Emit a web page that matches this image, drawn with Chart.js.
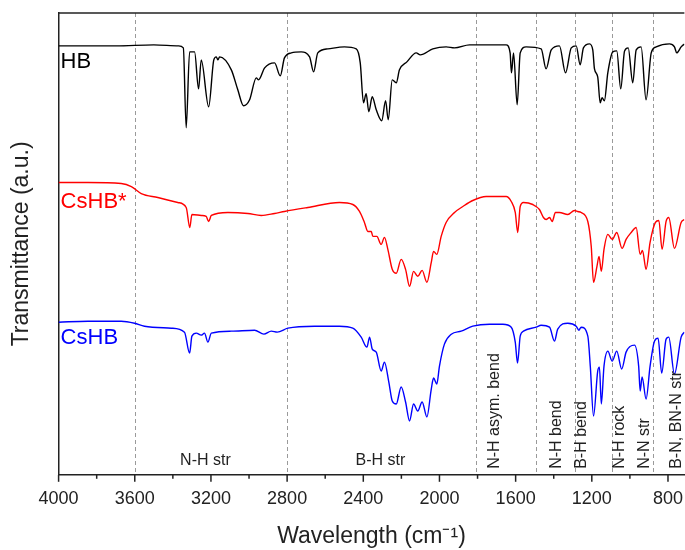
<!DOCTYPE html>
<html>
<head>
<meta charset="utf-8">
<script src="https://cdn.jsdelivr.net/npm/chart.js@4"></script>
<style>
  html, body { margin: 0; padding: 0; background: #fff; overflow: hidden; }
</style>
</head>
<body>
<canvas id="irChart" width="685" height="550"></canvas>
<script>
// IR spectra, transmittance in a.u. (traces offset vertically)
const hbWave = [4000, 3700, 3500, 3370, 3345, 3330, 3312, 3286, 3265, 3251, 3212, 3185, 3172, 3163, 3155, 3093, 3059, 3029, 2997, 2962, 2950, 2918, 2866, 2836, 2814, 2778, 2726, 2682, 2661, 2639, 2586, 2499, 2437, 2416, 2399, 2385, 2371, 2353, 2332, 2303, 2283, 2269, 2248, 2227, 2210, 2171, 2122, 2101, 2035, 1965, 1921, 1842, 1700, 1650, 1629, 1622, 1611, 1592, 1576, 1545, 1466, 1440, 1413, 1370, 1338, 1308, 1282, 1261, 1244, 1212, 1195, 1186, 1169, 1156, 1146, 1134, 1116, 1090, 1069, 1048, 1028, 1009, 985, 967, 941, 915, 888, 862, 792, 766, 754, 731, 714];
const hbT = [430, 430, 431, 430, 428, 348, 424, 424, 387, 416, 369, 416, 419, 416, 419, 406, 386, 370, 376, 398, 396, 408, 413, 400, 418, 423, 424, 419, 404, 423, 427, 429, 427, 413, 373, 382, 364, 379, 366, 355, 375, 356, 396, 393, 406, 414, 423, 421, 427, 429, 428, 431, 431, 431, 423, 403, 423, 371, 423, 429, 427, 407, 426, 430, 403, 428, 430, 411, 428, 432, 426, 407, 399, 373, 378, 375, 403, 424, 425, 387, 425, 428, 393, 426, 429, 376, 423, 429, 432, 429, 423, 429, 432];

const cshbStarWave = [4000, 3846, 3671, 3618, 3566, 3479, 3374, 3330, 3311, 3300, 3251, 3225, 3212, 3198, 3111, 3006, 2936, 2866, 2814, 2691, 2525, 2455, 2420, 2394, 2376, 2358, 2350, 2329, 2306, 2289, 2271, 2248, 2227, 2201, 2178, 2157, 2136, 2114, 2091, 2066, 2043, 2031, 2014, 1991, 1965, 1921, 1877, 1825, 1755, 1650, 1623, 1602, 1589, 1576, 1559, 1510, 1475, 1454, 1440, 1422, 1408, 1391, 1370, 1326, 1291, 1274, 1256, 1221, 1203, 1191, 1173, 1162, 1150, 1136, 1116, 1093, 1069, 1041, 1020, 993, 967, 946, 934, 915, 894, 866, 848, 831, 810, 796, 766, 731, 714];
const cshbStarT = [293, 293, 292, 289, 282, 278, 273, 268, 248, 261, 260, 259, 254, 260, 263, 262, 260, 262, 264, 268, 273, 271, 264, 253, 244, 244, 239, 239, 231, 238, 226, 206, 202, 216, 206, 189, 204, 199, 205, 193, 213, 224, 221, 239, 253, 263, 269, 275, 279, 279, 274, 263, 243, 269, 273, 271, 266, 258, 256, 258, 254, 263, 263, 261, 265, 264, 263, 254, 229, 193, 209, 219, 204, 226, 241, 236, 243, 227, 236, 243, 248, 221, 225, 206, 233, 253, 255, 226, 254, 258, 227, 253, 256];

const cshbWave = [4000, 3846, 3671, 3601, 3549, 3408, 3339, 3312, 3300, 3277, 3251, 3234, 3216, 3198, 3093, 2971, 2922, 2883, 2852, 2796, 2656, 2525, 2455, 2411, 2381, 2367, 2353, 2332, 2306, 2289, 2266, 2248, 2227, 2201, 2178, 2157, 2136, 2114, 2091, 2066, 2043, 2031, 2014, 2000, 1974, 1938, 1886, 1825, 1737, 1667, 1623, 1602, 1590, 1576, 1559, 1492, 1466, 1422, 1396, 1379, 1326, 1282, 1268, 1256, 1221, 1208, 1191, 1169, 1160, 1150, 1136, 1116, 1093, 1069, 1043, 1020, 976, 954, 946, 936, 915, 894, 871, 852, 833, 810, 796, 766, 731, 714];
const cshbT = [153, 154, 154, 152, 149, 147, 143, 122, 139, 142, 140, 142, 133, 142, 144, 145, 141, 144, 143, 147, 149, 149, 147, 138, 128, 138, 126, 123, 104, 113, 93, 74, 71, 88, 73, 54, 71, 64, 73, 58, 86, 97, 91, 109, 131, 141, 144, 149, 151, 151, 148, 133, 112, 139, 144, 148, 150, 148, 134, 146, 152, 149, 145, 148, 139, 109, 59, 104, 108, 71, 109, 124, 114, 124, 106, 123, 130, 109, 84, 98, 76, 109, 134, 137, 102, 136, 138, 101, 138, 143];

const seriesNames = ['HB', 'CsHB*', 'CsHB'];
const seriesColors = ['#000000', '#ff0000', '#0000ff'];
const seriesLabelY = [414, 274, 137];

const tickValues = [4000, 3600, 3200, 2800, 2400, 2000, 1600, 1200, 800];
const minorTicks = [3800, 3400, 3000, 2600, 2200, 1800, 1400, 1000];

// dashed guide lines and band labels
const guideLines = [3600, 2800, 1810, 1495, 1290, 1095, 880];
const flatLabels = ['N-H str', 'B-H str'];
const flatLabelX = [3229, 2310];
const upLabels = ['N-H asym. bend', 'N-H bend', 'B-H bend', 'N-H rock', 'N-N str', 'B-N, BN-N str'];
const upLabelX = [1711, 1387, 1256, 1055, 924, 757];

function toPoints(xs, ys) {
    return xs.map((x, i) => ({ x: x, y: ys[i] }));
}

const overlay = {
    id: 'overlay',
    beforeDatasetsDraw(chart) {
        const { ctx, chartArea: a, scales: { x } } = chart;
        ctx.save();
        ctx.strokeStyle = '#9a9a9a';
        ctx.lineWidth = 1;
        ctx.setLineDash([4, 3]);
        guideLines.forEach(v => {
            const px = Math.round(x.getPixelForValue(v)) + 0.5;
            ctx.beginPath();
            ctx.moveTo(px, a.top);
            ctx.lineTo(px, a.bottom);
            ctx.stroke();
        });
        ctx.restore();
    },
    afterDraw(chart) {
        const { ctx, chartArea: a, scales: { x, y } } = chart;
        ctx.save();
        // top frame line
        ctx.strokeStyle = '#222';
        ctx.lineWidth = 1.5;
        ctx.beginPath();
        ctx.moveTo(a.left, a.top);
        ctx.lineTo(a.right, a.top);
        ctx.stroke();
        // tick marks (outside)
        tickValues.forEach(v => {
            const px = x.getPixelForValue(v);
            ctx.beginPath();
            ctx.moveTo(px, a.bottom);
            ctx.lineTo(px, a.bottom + 7);
            ctx.stroke();
        });
        minorTicks.forEach(v => {
            const px = x.getPixelForValue(v);
            ctx.beginPath();
            ctx.moveTo(px, a.bottom);
            ctx.lineTo(px, a.bottom + 4);
            ctx.stroke();
        });

        // band labels
        ctx.fillStyle = '#222';
        ctx.font = '16px "Liberation Sans", Arial, sans-serif';
        ctx.textAlign = 'center';
        ctx.textBaseline = 'middle';
        flatLabels.forEach((t, i) => {
            ctx.fillText(t, x.getPixelForValue(flatLabelX[i]), y.getPixelForValue(14));
        });
        ctx.textAlign = 'left';
        upLabels.forEach((t, i) => {
            ctx.save();
            ctx.translate(x.getPixelForValue(upLabelX[i]), y.getPixelForValue(6));
            ctx.rotate(-Math.PI / 2);
            ctx.fillText(t, 0, 0);
            ctx.restore();
        });

        // trace names
        ctx.font = '22px "Liberation Sans", Arial, sans-serif';
        seriesNames.forEach((n, i) => {
            ctx.fillStyle = seriesColors[i];
            ctx.fillText(n, a.left + 2, y.getPixelForValue(seriesLabelY[i]));
        });
        ctx.restore();
    }
};

new Chart(document.getElementById('irChart'), {
    type: 'line',
    data: {
        datasets: [
            { label: seriesNames[0], data: toPoints(hbWave, hbT), borderColor: seriesColors[0] },
            { label: seriesNames[1], data: toPoints(cshbStarWave, cshbStarT), borderColor: seriesColors[1] },
            { label: seriesNames[2], data: toPoints(cshbWave, cshbT), borderColor: seriesColors[2] }
        ]
    },
    options: {
        responsive: false,
        animation: false,
        devicePixelRatio: 1,
        layout: { padding: { left: 8, top: 13, right: 0, bottom: 0 } },
        elements: {
            point: { radius: 0 },
            line: { borderWidth: 1.4, cubicInterpolationMode: 'monotone', fill: false }
        },
        plugins: {
            legend: { display: false },
            tooltip: { enabled: false }
        },
        scales: {
            x: {
                type: 'linear',
                reverse: true,
                min: 714,
                max: 4000,
                grid: { display: false, drawTicks: true, tickLength: 11 },
                border: { color: '#222', width: 1.5 },
                afterBuildTicks: scale => { scale.ticks = tickValues.map(v => ({ value: v })); },
                ticks: {
                    autoSkip: false,
                    maxRotation: 0,
                    padding: 2,
                    color: '#222',
                    callback: v => String(v),
                    font: { family: '"Liberation Sans", Arial, sans-serif', size: 18 }
                },
                title: {
                    display: true,
                    text: 'Wavelength (cm\u207B\u00B9)',
                    color: '#222',
                    padding: { top: 11, bottom: 0 },
                    font: { family: '"Liberation Sans", Arial, sans-serif', size: 23 }
                }
            },
            y: {
                min: 0,
                max: 463,
                grid: { display: false, drawTicks: false },
                border: { color: '#222', width: 1.5 },
                ticks: { display: false },
                title: {
                    display: true,
                    text: 'Transmittance (a.u.)',
                    color: '#222',
                    padding: { top: 0, bottom: 23 },
                    font: { family: '"Liberation Sans", Arial, sans-serif', size: 23 }
                }
            }
        }
    },
    plugins: [overlay]
});
</script>
</body>
</html>
